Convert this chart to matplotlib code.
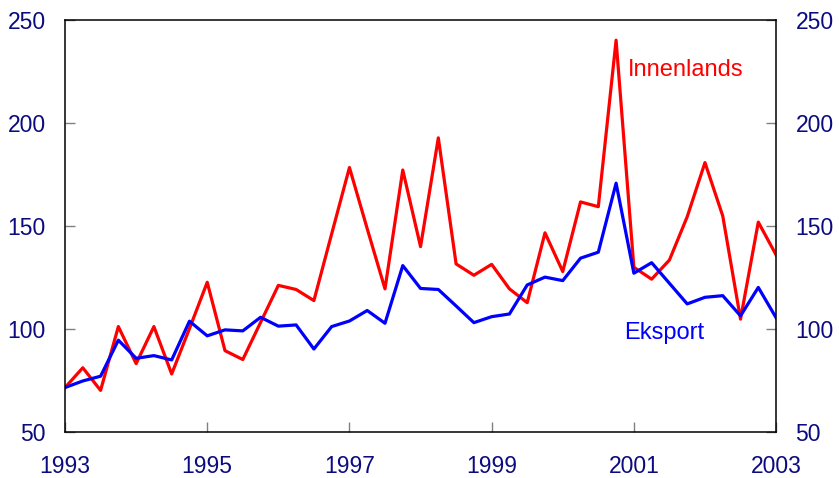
import matplotlib
matplotlib.use("Agg")
from matplotlib import pyplot as plt

# quarterly values, 1993Q1 - 2003Q1
innenlands = [71.4, 81, 70, 101, 83, 101, 78, 100, 122.5, 89.3, 85, 103,
              121, 119, 113.6, 146, 178.2, 148.5, 119.3, 177, 139.8, 192.6,
              131.4, 125.9, 131.2, 119.3, 112.6, 146.5, 127.7, 161.5, 159.2,
              240, 129.8, 124, 133.3, 154.3, 180.6, 154.7, 104.6, 151.7, 135.8]
eksport = [71.4, 74.6, 76.9, 94.4, 85.6, 86.9, 84.8, 103.6, 96.5, 99.4, 98.9,
           105.5, 101.2, 101.8, 90.1, 101, 103.7, 108.8, 102.6, 130.6, 119.5,
           119, 111, 102.9, 105.8, 107.1, 121.2, 125, 123.3, 134.2, 137.1,
           170.6, 126.9, 132, 122, 112, 115.2, 116, 106.2, 120, 105.3]
years = [1993 + i / 4 for i in range(len(innenlands))]
xticks = [1993, 1995, 1997, 1999, 2001, 2003]
yticks = [50, 100, 150, 200, 250]

plt.rcParams['font.family'] = ['Liberation Sans', 'DejaVu Sans']
navy = '#0b0b80'

fig = plt.figure(figsize=(8.39, 4.78), dpi=100)
ax = fig.add_axes([0.0775, 0.097, 0.8475, 0.862])
ax.plot(years, innenlands, color='#ff0000', linewidth=2.3)
ax.plot(years, eksport, color='#0000ff', linewidth=2.3)

ax.set_xlim(1993, 2003)
ax.set_ylim(50, 250)
ax.set_xticks(xticks)
ax.set_yticks(yticks)
ax.tick_params(axis='both', direction='in', length=7, width=1, color='#808080',
               labelsize=16.5, labelcolor=navy)
ax.tick_params(axis='y', right=True, labelright=True, pad=14)
ax.tick_params(axis='x', pad=17)
for s in ax.spines.values():
    s.set_linewidth(1.1)
    s.set_color('black')

ax.text(2000.91, 225.5, 'Innenlands', color='#ff0000', fontsize=17, va='center')
ax.text(2000.86, 98, 'Eksport', color='#0000ff', fontsize=17, va='center')

fig.savefig('out.png', dpi=100)
